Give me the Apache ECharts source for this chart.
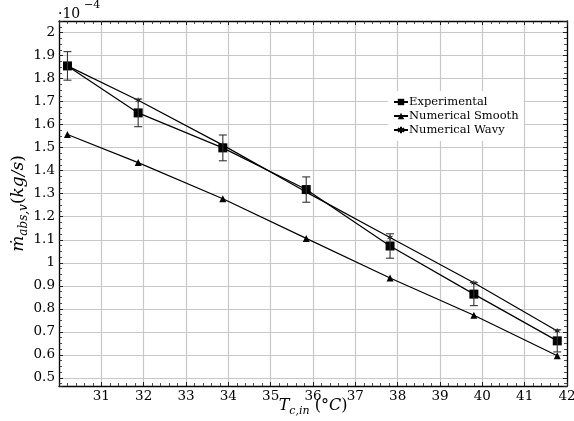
<!DOCTYPE html>
<html>
<head>
<meta charset="utf-8">
<script src="https://cdn.jsdelivr.net/npm/echarts@6/dist/echarts.min.js"></script>
<style>html,body{margin:0;padding:0;background:#fff}#c{width:574px;height:421px}</style>
</head>
<body>
<div id="c"></div>
<script>
const temps = [30.2, 31.87, 33.87, 35.84, 37.82, 39.8, 41.77];
const experimental = [1.855, 1.651, 1.499, 1.318, 1.073, 0.864, 0.661];
const expError = [0.062, 0.060, 0.056, 0.055, 0.053, 0.050, 0.048];
const smooth = [1.557, 1.435, 1.278, 1.106, 0.934, 0.772, 0.596];
const wavy = [1.855, 1.706, 1.511, 1.307, 1.110, 0.913, 0.704];
const seriesNames = ['Experimental', 'Numerical Smooth', 'Numerical Wavy'];

const FONT = 'DejaVu Serif';
const pair = (xs, ys) => xs.map((x, i) => [x, ys[i]]);
const errData = temps.map((x, i) => [x, experimental[i] - expError[i], experimental[i] + expError[i]]);

const chart = echarts.init(document.getElementById('c'), null, {renderer: 'canvas'});
const xRange = {min: 30, max: 42};
const yRange = {min: 0.465, max: 2.05};
const minorTickStyle = {show: true, length: 3, lineStyle: {color: '#222', width: 0.8}};

const option = {
  animation: false,
  backgroundColor: '#fff',
  grid: {left: 59, top: 21, right: 7, bottom: 35, show: false, containLabel: false, outerBoundsMode: 'none'},
  legend: {
    data: seriesNames,
    orient: 'vertical',
    left: 388,
    top: 91,
    itemGap: 2,
    itemWidth: 14,
    itemHeight: 8,
    textStyle: {fontFamily: FONT, fontSize: 11.5, color: '#000', padding: [0, 0, 0, -4]},
    backgroundColor: '#fff'
  },
  xAxis: [{
    type: 'value', ...xRange, interval: 1,
    axisLine: {show: true, onZero: false, lineStyle: {color: '#000', width: 1.3}},
    axisTick: {show: true, inside: true, length: 4, lineStyle: {color: '#222'}},
    minorTick: {...minorTickStyle, splitNumber: 5},
    axisLabel: {showMinLabel: false, color: '#000', fontFamily: FONT, fontSize: 13.5, margin: 3},
    splitLine: {show: true, lineStyle: {color: '#c8c8c8', width: 1.2}},
    name: '{i|T}{s|c,in}{n| (°}{i|C}{n|)}',
    nameLocation: 'middle', nameGap: 9, nameMoveOverlap: false,
    nameTextStyle: {
      fontFamily: FONT, color: '#000',
      rich: {
        i: {fontStyle: 'italic', fontSize: 16, fontFamily: FONT, lineHeight: 22, verticalAlign: 'middle'},
        n: {fontSize: 16, fontFamily: FONT, lineHeight: 22, verticalAlign: 'middle'},
        s: {fontStyle: 'italic', fontSize: 11, fontFamily: FONT, lineHeight: 12, verticalAlign: 'bottom'}
      }
    }
  }, {
    type: 'value', ...xRange, interval: 1, position: 'top',
    axisLine: {show: true, onZero: false, lineStyle: {color: '#000', width: 1.3}},
    axisTick: {show: true, inside: true, length: 4, lineStyle: {color: '#222'}},
    minorTick: {...minorTickStyle, splitNumber: 5},
    axisLabel: {show: false}, splitLine: {show: false}
  }],
  yAxis: [{
    type: 'value', ...yRange, splitNumber: 16,
    axisLine: {show: true, onZero: false, lineStyle: {color: '#000', width: 1.3}},
    axisTick: {show: true, inside: true, length: 4, lineStyle: {color: '#222'}},
    minorTick: {...minorTickStyle, splitNumber: 4},
    axisLabel: {showMinLabel: false, showMaxLabel: false, color: '#000', fontFamily: FONT, fontSize: 13.5, margin: 4},
    splitLine: {show: true, lineStyle: {color: '#c8c8c8', width: 1.2}},
    name: '{i|ṁ}{s|abs,v}{n|(}{i|kg/s}{n|)}',
    nameLocation: 'middle', nameGap: 29, nameRotate: 90, nameMoveOverlap: false,
    nameTextStyle: {
      fontFamily: FONT, color: '#000',
      rich: {
        i: {fontStyle: 'italic', fontSize: 17, fontFamily: FONT, lineHeight: 22, verticalAlign: 'middle'},
        n: {fontSize: 17, fontFamily: FONT, lineHeight: 22, verticalAlign: 'middle'},
        s: {fontStyle: 'italic', fontSize: 12, fontFamily: FONT, lineHeight: 12, verticalAlign: 'bottom'}
      }
    }
  }, {
    type: 'value', ...yRange, splitNumber: 16, position: 'right',
    axisLine: {show: true, onZero: false, lineStyle: {color: '#000', width: 1.3}},
    axisTick: {show: true, inside: true, length: 4, lineStyle: {color: '#222'}},
    minorTick: {...minorTickStyle, splitNumber: 4},
    axisLabel: {show: false}, splitLine: {show: false}
  }],
  graphic: [
    {type: 'text', left: 58, top: 7, style: {text: '·10', fontFamily: FONT, fontSize: 14, fill: '#000'}},
    {type: 'text', left: 84, top: 0, style: {text: '−4', fontFamily: FONT, fontSize: 11, fill: '#000'}}
  ],
  series: [
    {
      name: 'Experimental', type: 'line', data: pair(temps, experimental),
      symbol: 'rect', symbolSize: 9, showAllSymbol: true,
      lineStyle: {color: '#000', width: 1.2}, itemStyle: {color: '#000'}, z: 5
    },
    {
      name: 'Numerical Smooth', type: 'line', data: pair(temps, smooth),
      symbol: 'triangle', symbolSize: 7,
      lineStyle: {color: '#000', width: 1.2}, itemStyle: {color: '#000'}, z: 4
    },
    {
      name: 'Numerical Wavy', type: 'line', data: pair(temps, wavy),
      symbol: 'path://M0,-5L0,5M-4.3,-2.5L4.3,2.5M-4.3,2.5L4.3,-2.5', symbolSize: 5,
      lineStyle: {color: '#000', width: 1.2},
      itemStyle: {color: '#000', borderColor: '#000', borderWidth: 1}, z: 4
    },
    {
      name: 'err', type: 'custom', data: errData, z: 6,
      encode: {x: 0, y: [1, 2]},
      renderItem: function (params, api) {
        const x = api.value(0);
        const lo = api.coord([x, api.value(1)]);
        const hi = api.coord([x, api.value(2)]);
        const w = 4;
        const st = {stroke: '#333', lineWidth: 1.1};
        return {
          type: 'group',
          children: [
            {type: 'line', shape: {x1: lo[0], y1: lo[1], x2: hi[0], y2: hi[1]}, style: st},
            {type: 'line', shape: {x1: lo[0] - w, y1: lo[1], x2: lo[0] + w, y2: lo[1]}, style: st},
            {type: 'line', shape: {x1: hi[0] - w, y1: hi[1], x2: hi[0] + w, y2: hi[1]}, style: st}
          ]
        };
      }
    }
  ]
};
chart.setOption(option);
</script>
</body>
</html>
